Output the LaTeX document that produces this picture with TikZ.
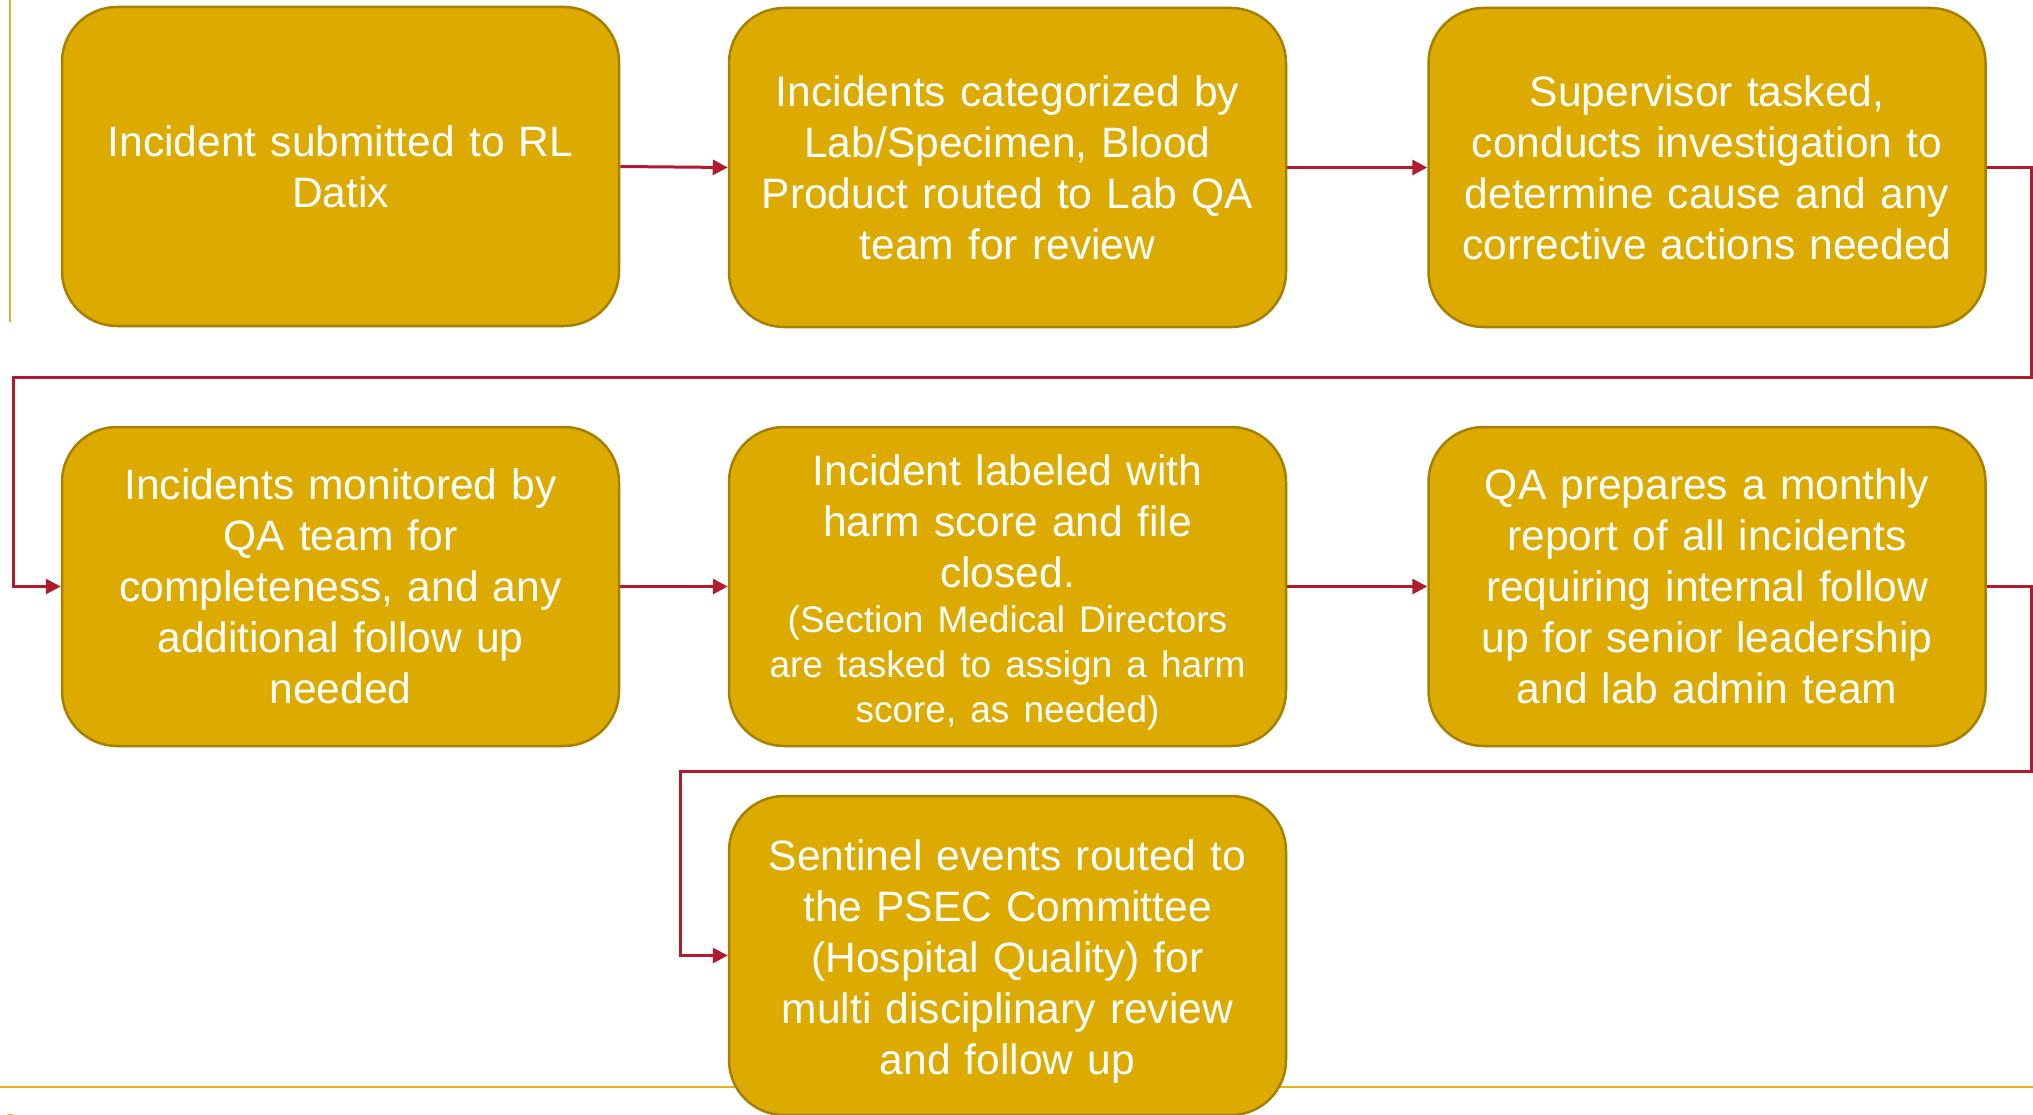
\documentclass[tikz,border=0pt]{standalone}
\usepackage{fontspec}
\setmainfont{Liberation Sans}
\usetikzlibrary{arrows.meta}
\definecolor{boxfill}{RGB}{221,170,0}
\definecolor{boxedge}{RGB}{166,128,0}
\definecolor{conn}{RGB}{176,28,46}
\definecolor{rule}{RGB}{228,180,30}
\begin{document}
\begin{tikzpicture}[x=1pt,y=-1pt,
  stepbox/.style={draw=boxedge,line width=2.5pt,fill=boxfill,rounded corners=55pt,
    minimum width=557pt,minimum height=319pt,text width=530pt,align=center,
    text=white,inner sep=0pt,font=\fontsize{42.5}{51}\selectfont},
  link/.style={draw=conn,line width=3pt,-{Triangle[length=15pt,width=15pt]}}]
\useasboundingbox (0,0) rectangle (2033,1115);
% decorative rules
\draw[rule,line width=2pt] (10,0) -- (10,322);
\draw[rule,line width=2pt] (0,1087) -- (2033,1087);
\fill[boxfill] (10,1124) circle (10);
% boxes
\node[stepbox] (b1) at (340.5,166.5) {Incident submitted to RL\\Datix};
\node[stepbox] (b2) at (1007.5,167.5) {Incidents categorized by\\Lab/Specimen, Blood\\Product routed to Lab QA\\team for review};
\node[stepbox] (b3) at (1707,167.5) {Supervisor tasked,\\conducts investigation to\\determine cause and any\\corrective actions needed};
\node[stepbox] (b4) at (340.5,586.5) {Incidents monitored by\\QA team for\\completeness, and any\\additional follow up\\needed};
\node[stepbox] (b5) at (1007.5,586.5) {\rule{0pt}{42pt}Incident labeled with\\harm score and file\\closed.\\{\fontsize{37}{45}\selectfont (Section Medical Directors\\are tasked to assign a harm\\score, as needed)\par}};
\node[stepbox] (b6) at (1707,586.5) {QA prepares a monthly\\report of all incidents\\requiring internal follow\\up for senior leadership\\and lab admin team};
\node[stepbox] (b7) at (1007.5,955.5) {\rule{0pt}{43pt}Sentinel events routed to\\the PSEC Committee\\(Hospital Quality) for\\multi disciplinary review\\and follow up};
% turning points
\coordinate (r1) at (2031,377);
\coordinate (l1) at (13,377);
\coordinate (r2) at (2031,771);
\coordinate (l2) at (680,771);
% connectors
\draw[link] (b1.east) -- (b2.west);
\draw[link] (b2.east) -- (b3.west);
\draw[link] (b3.east) -| (r1) -- (l1) |- (b4.west);
\draw[link] (b4.east) -- (b5.west);
\draw[link] (b5.east) -- (b6.west);
\draw[link] (b6.east) -| (r2) -- (l2) |- (b7.west);
\end{tikzpicture}
\end{document}
